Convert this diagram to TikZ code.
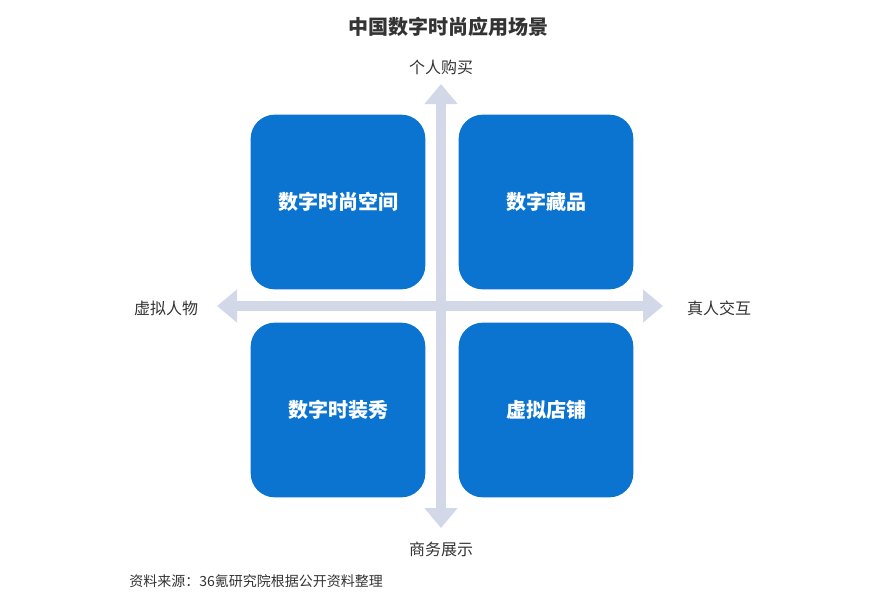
\documentclass[tikz,border=0pt]{standalone}
\usepackage{fontspec}
\setmainfont{Noto Sans CJK SC}
\usetikzlibrary{arrows.meta}
\definecolor{boxblue}{HTML}{0B74D1}
\definecolor{axisgray}{HTML}{D3D8E8}
\definecolor{txtgray}{HTML}{333333}
\tikzset{
  quad/.style={fill=boxblue, rounded corners=18pt, minimum width=131pt, minimum height=131pt,
    text=white, font=\bfseries\fontsize{15}{18}\selectfont, inner sep=0pt},
  axis/.style={axisgray, line width=7.5pt, -{Triangle[width=24pt,length=15pt]}},
  axlabel/.style={text=txtgray, font=\fontsize{12}{14}\selectfont}
}
\begin{document}
\begin{tikzpicture}[x=0.75pt,y=-0.75pt]
\useasboundingbox (0,0) rectangle (891,597);

% quadrants
\node[quad] (tl) at (338,202) {数字时尚空间};
\node[quad] (tr) at (546,202) {数字藏品};
\node[quad] (bl) at (338,410) {数字时装秀};
\node[quad] (br) at (546,410) {虚拟店铺};

% axes
\coordinate (c) at (441,306);
\coordinate (up) at (441,84);
\coordinate (down) at (441,528);
\coordinate (left) at (217,306);
\coordinate (right) at (663,306);
\draw[axis] (c) -- (up);
\draw[axis] (c) -- (down);
\draw[axis] (c) -- (left);
\draw[axis] (c) -- (right);

\node[axlabel] (ny) at (441,67) {个人购买};
\node[axlabel] (sy) at (441,549) {商务展示};
\node[axlabel] (wx) at (166,308) {虚拟人物};
\node[axlabel] (ex) at (719,308) {真人交互};

\node[text=txtgray, font=\bfseries\fontsize{15}{18}\selectfont] (title) at (448,27) {中国数字时尚应用场景};
\node[anchor=west, text=txtgray, font=\fontsize{10.5}{12}\selectfont, inner sep=0pt] (src) at (129,581)
  {资料来源：36氪研究院根据公开资料整理};
\end{tikzpicture}
\end{document}
